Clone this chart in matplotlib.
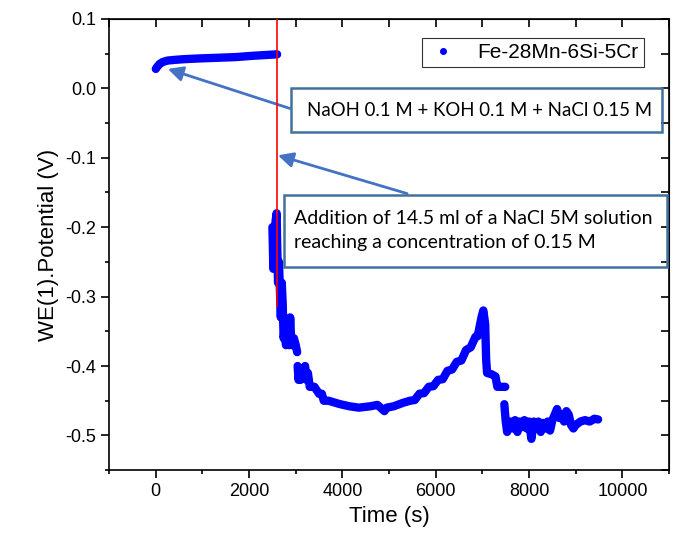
import numpy as np
import matplotlib.pyplot as plt
from matplotlib.patches import Rectangle

plt.rcParams['font.family'] = ['Liberation Sans', 'DejaVu Sans']

t = [0, 30, 80, 150, 250, 400, 600, 900, 1300, 1700, 2100, 2600, np.nan,
     2500, 2520, 2540, 2570, 2590, 2600, 2620, 2640, 2660, 2680, 2700, 2720, 2740,
     2760, 2790, 2820, 2860, 2880, 2900, 2920, 2960, 3000, 3030, np.nan,
     3040, 3060, 3080, 3100, 3150, 3200, 3230, 3260, 3300, 3400, 3500, 3560, 3600,
     3700, 3800, 3950, 4150, 4350, 4600, 4750, 4900, 4950, 5100, 5300, 5450, 5550,
     5650, 5750, 5850, 5950, 6050, 6150, 6250, 6350, 6450, 6550, 6650, 6750, 6850,
     6900, 6950, 6980, 7020, 7060, 7080, 7100,
     7200, 7280, 7320, 7400, 7490, np.nan,
     7470, 7500, 7530, 7560, 7600, 7650, 7700, 7750, 7800, 7850, 7900, 7950, 8000,
     8050, 8100, 8150, 8200, 8250, 8300, 8350, 8400, 8450, 8500, 8550, 8600, 8650,
     8700, 8750, 8800, 8850, 8900, 8950, 9000, 9100, 9200, 9300, 9400, 9480]
E = [0.028, 0.031, 0.035, 0.038, 0.040, 0.041, 0.042, 0.043, 0.044, 0.045, 0.047, 0.049, np.nan,
     -0.20, -0.26, -0.21, -0.19, -0.18, -0.22, -0.28, -0.25, -0.29, -0.33, -0.28, -0.31, -0.36,
     -0.35, -0.37, -0.36, -0.37, -0.33, -0.36, -0.37, -0.36, -0.37, -0.38, np.nan,
     -0.40, -0.42, -0.41, -0.42, -0.41, -0.40, -0.42, -0.41, -0.43, -0.43, -0.44, -0.44, -0.45,
     -0.45, -0.452, -0.455, -0.458, -0.46, -0.458, -0.456, -0.465, -0.46, -0.458, -0.453, -0.45, -0.449,
     -0.440, -0.439, -0.430, -0.429, -0.420, -0.419, -0.407, -0.405, -0.394, -0.392, -0.377, -0.373, -0.358,
     -0.357, -0.34, -0.33, -0.32, -0.34, -0.39, -0.41,
     -0.412, -0.415, -0.43, -0.43, -0.43, np.nan,
     -0.455, -0.48, -0.495, -0.485, -0.48, -0.49, -0.478, -0.495, -0.48, -0.488, -0.478, -0.49, -0.48,
     -0.505, -0.48, -0.49, -0.48, -0.495, -0.482, -0.49, -0.48, -0.493, -0.478, -0.47, -0.462, -0.475,
     -0.47, -0.48, -0.465, -0.47, -0.485, -0.49, -0.485, -0.48, -0.478, -0.48, -0.476, -0.477]

t_add = 2600          # NaCl addition time
E_add = (0.1, -0.313)  # extent of the red marker line

fig = plt.figure(figsize=(6.82, 5.41), dpi=100)
ax = fig.add_axes([0.160, 0.131, 0.821, 0.834])

ax.plot(t, E, color='#0000ff', lw=6, solid_capstyle='round', solid_joinstyle='round')
ax.plot([], [], 'o', color='#0000ff', ms=4, label='Fe-28Mn-6Si-5Cr')
ax.plot((t_add, t_add), E_add, color='#ff0000', lw=1.2, zorder=4)

ax.set_xlim(-1000, 11000)
ax.set_ylim(-0.55, 0.1)
ax.set_xticks([0, 2000, 4000, 6000, 8000, 10000])
ax.set_xticks(np.arange(-1000, 11001, 1000), minor=True)
ax.set_yticks(np.arange(-0.5, 0.11, 0.1))
ax.set_yticks(np.arange(-0.55, 0.11, 0.05), minor=True)
ax.set_yticklabels(['-0.5', '-0.4', '-0.3', '-0.2', '-0.1', '0.0', '0.1'])
ax.tick_params(which='major', direction='out', length=6, width=1.2, labelsize=13)
ax.tick_params(which='minor', direction='out', length=3, width=1.2)
plt.setp(ax.spines.values(), linewidth=1.2)

top = ax.secondary_xaxis('top')
top.set_xticks(np.arange(-1000, 11001, 1000))
top.tick_params(direction='in', length=6, width=1.2, labeltop=False)
right = ax.secondary_yaxis('right')
right.set_yticks(np.arange(-0.55, 0.11, 0.05))
right.tick_params(direction='in', length=6, width=1.2, labelright=False)

ax.set_xlabel('Time (s)', fontsize=16)
ax.set_ylabel('WE(1).Potential (V)', fontsize=16)

leg = ax.legend(loc='upper right', bbox_to_anchor=(0.955, 0.958), borderaxespad=0,
                fontsize=15, fancybox=False, edgecolor='black', handletextpad=0.9,
                handlelength=1.5, borderpad=0.25)
leg.get_frame().set_linewidth(0.8)

# annotation boxes and arrows
box_col = '#41719C'
ax.add_patch(Rectangle((2897, -0.063), 10858 - 2897, 0.063, fill=False,
                       ec=box_col, lw=1.8, zorder=5))
ax.text(3250, -0.0315, 'NaOH 0.1 M + KOH 0.1 M + NaCl 0.15 M', family='Lato',
        fontsize=13.4, va='center', ha='left', zorder=6)
ax.add_patch(Rectangle((2747, -0.257), 10966 - 2747, 0.103, fill=False,
                       ec=box_col, lw=1.8, zorder=5))
ax.text(2970, -0.205, 'Addition of 14.5 ml of a NaCl 5M solution\nreaching a concentration of 0.15 M',
        family='Lato', fontsize=14, va='center', ha='left', linespacing=1.45, zorder=6)

arrow = dict(arrowstyle='-|>,head_length=0.9,head_width=0.45', color='#4472C4', lw=2,
             shrinkA=0, shrinkB=0)
ax.annotate('', xy=(258, 0.028), xytext=(2876, -0.029), arrowprops=arrow)
ax.annotate('', xy=(2618, -0.0965), xytext=(5386, -0.1516), arrowprops=arrow)

fig.savefig('out.png', dpi=100)
